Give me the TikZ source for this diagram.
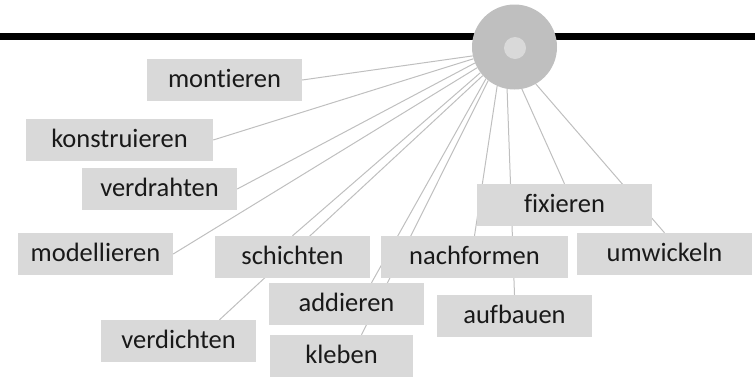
\documentclass[tikz,border=0pt]{standalone}
\usepackage{fontspec}
\setmainfont{Carlito}[Ligatures={NoCommon,NoRare,NoContextual}]
\definecolor{boxgray}{HTML}{D9D9D9}
\definecolor{hubgray}{HTML}{BFBFBF}
\definecolor{linegray}{HTML}{BFBFBF}
\pgfdeclarelayer{bg}
\pgfsetlayers{bg,main}
\begin{document}
\begin{tikzpicture}[x=1bp,y=-1bp,
  word/.style={fill=boxgray, inner sep=0pt, minimum height=42bp,
    text height=14.6bp, text depth=0pt, text=black!90,
    font=\fontsize{26.5bp}{30bp}\selectfont},
  link/.style={draw=linegray, line width=1bp},
  rule/.style={draw=black, line width=6.5bp}]
\useasboundingbox (0,0) rectangle (755,376);

% boxes
\node[word, minimum width=155bp] (montieren)    at (224.5,80)  {montieren};
\node[word, minimum width=187bp] (konstruieren) at (119.5,140) {konstruieren};
\node[word, minimum width=155bp] (verdrahten)   at (159.5,189) {verdrahten};
\node[word, minimum width=155bp] (modellieren)  at (95.5,254)  {modellieren};
\node[word, minimum width=155bp] (schichten)    at (292.5,257) {schichten};
\node[word, minimum width=155bp] (addieren)     at (346.5,304) {addieren};
\node[word, minimum width=143bp] (kleben)       at (341.5,356) {kleben};
\node[word, minimum width=155bp] (verdichten)   at (178.5,341) {verdichten};
\node[word, minimum width=175bp] (fixieren)     at (564.5,205) {fixieren};
\node[word, minimum width=175bp] (umwickeln)    at (664.5,254) {umwickeln};
\node[word, minimum width=187bp] (nachformen)   at (474.5,257) {nachformen};
\node[word, minimum width=155bp] (aufbauen)     at (514.5,316) {aufbauen};

% hub
\node[circle, fill=hubgray, minimum size=85bp, inner sep=0pt] (hub) at (514.5,47) {};
\node[circle, fill=boxgray, minimum size=22bp, inner sep=0pt] (hubcore) at (515,48) {};

\begin{pgfonlayer}{bg}
  \coordinate (ruleL) at (0,36.5);
  \coordinate (ruleR) at (755,36.5);
  \draw[rule] (ruleL) -- (ruleR);
  \draw[link] (hub.192) -- (montieren.east);
  \draw[link] (hub.196) -- (konstruieren.east);
  \draw[link] (hub.202) -- (verdrahten.east);
  \draw[link] (hub.209) -- (modellieren.east);
  \draw[link] (hub.217) -- (schichten.north);
  \draw[link] (hub.222) -- ([xshift=41bp]verdichten.north);
  \draw[link] (hub.228) -- ([xshift=25bp]addieren.north);
  \draw[link] (hub.232) -- ([xshift=20bp]kleben.north);
  \draw[link] (hub.246) -- (nachformen.north);
  \draw[link] (hub.260) -- (aufbauen.north);
  \draw[link] (hub.280) -- (fixieren.north);
  \draw[link] (hub.300) -- (umwickeln.north);
\end{pgfonlayer}
\end{tikzpicture}
\end{document}
